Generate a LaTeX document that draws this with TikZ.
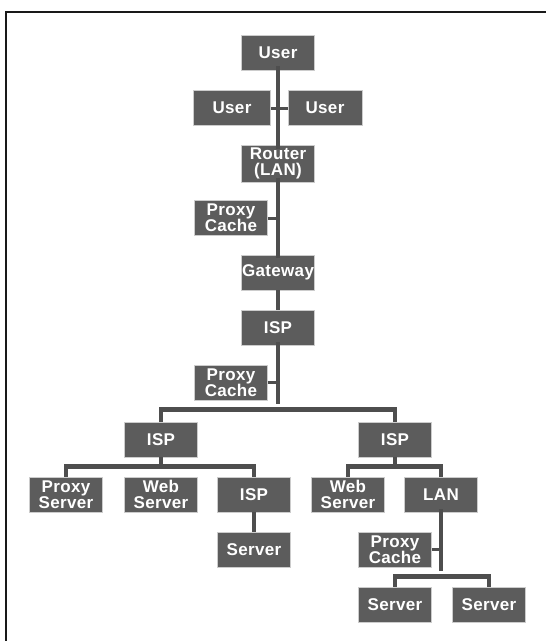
\documentclass[tikz,border=0pt]{standalone}
\usepackage{fontspec}
\setmainfont{Liberation Sans}[LetterSpace=2]
\usetikzlibrary{positioning}

\definecolor{boxgray}{RGB}{92,92,92}
\definecolor{linkgray}{RGB}{78,78,78}

\begin{document}
\begin{tikzpicture}[
  x=1pt,y=-1pt,
  box/.style={rectangle,draw=gray!40,line width=0.6pt,fill=boxgray,text=white,
    minimum width=73pt,minimum height=35pt,inner sep=0pt,align=center,
    font=\fontsize{17}{16}\selectfont\bfseries},
  link/.style={draw=linkgray,line width=4.5pt},
  stub/.style={draw=linkgray,line width=3pt}
]
\useasboundingbox (0,0) rectangle (546,641);
\draw[line width=2.5pt,black!90] (546,12) -- (6,12) -- (6,641);

% top part
\node[box] (user0) at (278,52.5) {User};
\node[box,minimum width=77pt] (userL) at (232,108) {User};
\node[box,minimum width=74pt] (userR) at (325,108) {User};
\node[box,minimum height=37pt] (router) at (278,163.5) {Router\\(LAN)};
\node[box] (proxy1) at (231,218) {Proxy\\Cache};
\node[box] (gateway) at (278,272.5) {Gateway};
\node[box] (isp0) at (278,327.5) {ISP};
\node[box] (proxy2) at (231,382.5) {Proxy\\Cache};

% second level
\node[box] (ispL) at (161,439.5) {ISP};
\node[box] (ispR) at (395,439.5) {ISP};

% left branch
\node[box] (proxysrv) at (66,494.5) {Proxy\\Server};
\node[box] (websrvL) at (161,494.5) {Web\\Server};
\node[box] (ispLL) at (254,494.5) {ISP};
\node[box] (serverL) at (254,549.5) {Server};

% right branch
\node[box] (websrvR) at (348,494.5) {Web\\Server};
\node[box] (lan) at (441,494.5) {LAN};
\node[box] (proxy3) at (395,549.5) {Proxy\\Cache};
\node[box] (server1) at (395,604.5) {Server};
\node[box] (server2) at (489,604.5) {Server};

% trunk down to the router
\draw[link] ([yshift=4pt]user0.south) -- ([yshift=-4pt]router.north);
\draw[stub] (userL.east) -- (userR.west);
\draw[link] ([yshift=4pt]router.south) -- ([yshift=-3pt]gateway.north);
\draw[stub] (proxy1.east) -- ++(10,0);
\draw[link] (gateway.south) -- (isp0.north);
\draw[link] ([yshift=3pt]isp0.south) -- ++(0,62);
\draw[stub] (proxy2.east) -- ++(10,0);

% split to the two ISPs
\draw[link] (ispL.north) -- ++(0,-12) -| (ispR.north);

% left ISP
\draw[link] (ispL.south) -- ++(0,10);
\draw[link] (proxysrv.north) -- ++(0,-10) -| (ispLL.north);
\draw[link] (ispLL.south) -- (serverL.north);

% right ISP
\draw[link] (ispR.south) -- ++(0,10);
\draw[link] (websrvR.north) -- ++(0,-10) -| (lan.north);
\draw[link] ([yshift=3pt]lan.south) -- ++(0,62);
\draw[stub] (proxy3.east) -- ++(10,0);
\draw[link] (server1.north) -- ++(0,-10) -| (server2.north);
\end{tikzpicture}
\end{document}
